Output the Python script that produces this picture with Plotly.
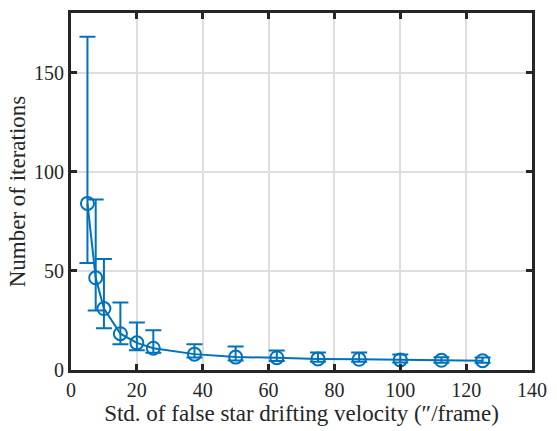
import plotly.graph_objects as go

x_vals = [5, 7.5, 10, 15, 20, 25, 37.5, 50, 62.5, 75, 87.5, 100, 112.5, 125]
mean_iter = [84, 46.5, 31, 18.3, 13.7, 11, 8, 6.5, 6.2, 5.6, 5.4, 5.1, 4.9, 4.7]
upper_iter = [168, 86, 56, 34, 24, 20, 13, 11.8, 9.8, 8.8, 8.8, 7.8, 6.4, 6.3]
lower_iter = [54, 30, 21, 13, 10, 8.7, 6.3, 4.8, 4.5, 4.2, 4.1, 3.8, 3.7, 3.6]

err_plus = [u - m for u, m in zip(upper_iter, mean_iter)]
err_minus = [m - l for m, l in zip(mean_iter, lower_iter)]

blue = "#0072BD"
dark = "#262626"
font_family = "Liberation Serif"

fig = go.Figure()
fig.add_trace(go.Scatter(
    x=x_vals, y=mean_iter, mode="lines+markers",
    line=dict(color=blue, width=2),
    marker=dict(symbol="circle-open", size=13, color=blue, line=dict(width=2, color=blue)),
    error_y=dict(type="data", symmetric=False, array=err_plus, arrayminus=err_minus,
                 color=blue, thickness=2, width=8),
    showlegend=False,
))

axis_common = dict(
    showline=True, linewidth=3, linecolor=dark, mirror="ticks",
    ticks="inside", ticklen=6, tickwidth=3, tickcolor=dark,
    showgrid=True, gridcolor="#dedede", gridwidth=2, zeroline=False,
    tickfont=dict(family=font_family, size=20, color=dark),
    title_font=dict(family=font_family, size=23, color=dark),
)

fig.update_xaxes(range=[0, 140], tickvals=[0, 20, 40, 60, 80, 100, 120, 140],
                 title_text="Std. of false star drifting velocity (″/frame)",
                 title_standoff=2, **axis_common)
fig.update_yaxes(range=[0, 180], tickvals=[0, 50, 100, 150],
                 title_text="Number of iterations", title_standoff=2, **axis_common)

fig.update_layout(
    width=557, height=431,
    margin=dict(l=71, r=16, t=10, b=61),
    plot_bgcolor="white", paper_bgcolor="white",
    font=dict(family=font_family, color=dark),
)

fig.write_html("out.html")
